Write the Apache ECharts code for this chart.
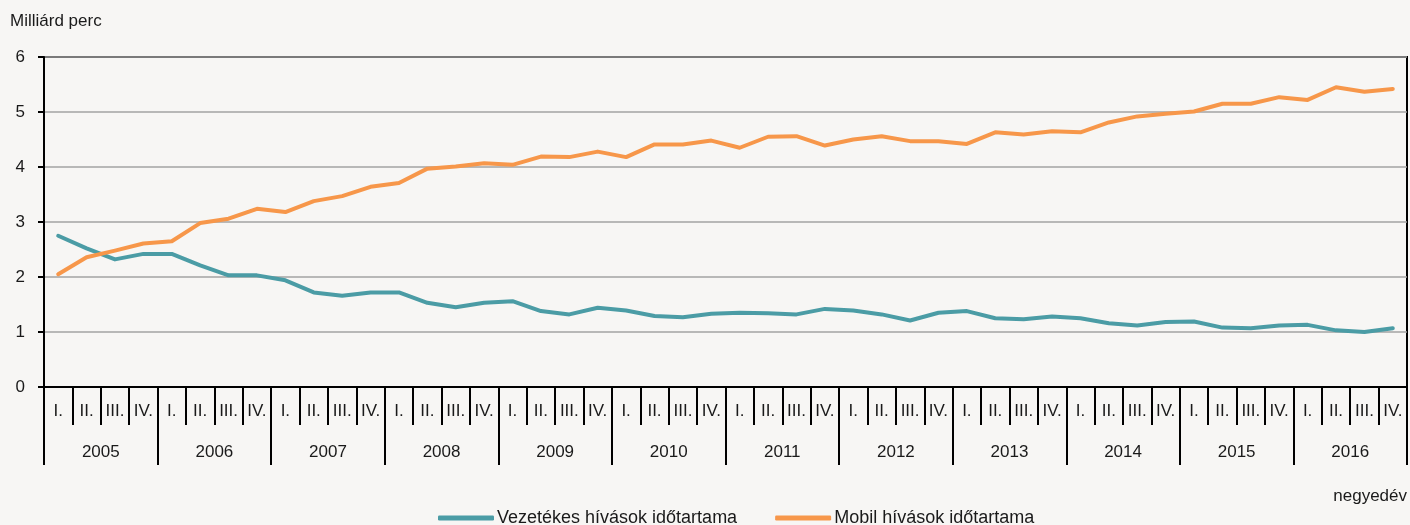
<!DOCTYPE html>
<html>
<head>
<meta charset="utf-8">
<script src="https://cdn.jsdelivr.net/npm/echarts@6/dist/echarts.min.js"></script>
<style>
  html, body { margin: 0; padding: 0; background: #f7f6f4; }
  #chart { width: 1410px; height: 525px; }
</style>
</head>
<body>
<div id="chart"></div>
<script>
const years = ['2005', '2006', '2007', '2008', '2009', '2010', '2011', '2012', '2013', '2014', '2015', '2016']
const quarterNames = ['I.', 'II.', 'III.', 'IV.']
const yTicks = [0, 1, 2, 3, 4, 5, 6]

// Vezetékes hívások időtartama (milliárd perc)
const vezetekes = [
  2.75, 2.52, 2.32, 2.42, 2.42, 2.21, 2.03, 2.03, 1.94, 1.72, 1.66, 1.72,
  1.72, 1.53, 1.45, 1.53, 1.56, 1.38, 1.32, 1.44, 1.39, 1.29, 1.27, 1.33,
  1.35, 1.34, 1.32, 1.42, 1.39, 1.32, 1.21, 1.35, 1.38, 1.25, 1.23, 1.28,
  1.25, 1.16, 1.12, 1.18, 1.19, 1.08, 1.07, 1.12, 1.13, 1.03, 1.00, 1.07
]
// Mobil hívások időtartama (milliárd perc)
const mobil = [
  2.05, 2.36, 2.48, 2.61, 2.65, 2.98, 3.06, 3.24, 3.18, 3.38, 3.47, 3.64,
  3.71, 3.97, 4.01, 4.07, 4.04, 4.19, 4.18, 4.28, 4.18, 4.41, 4.41, 4.48,
  4.35, 4.55, 4.56, 4.39, 4.50, 4.56, 4.47, 4.47, 4.42, 4.63, 4.59, 4.65,
  4.63, 4.81, 4.92, 4.97, 5.01, 5.15, 5.15, 5.27, 5.22, 5.45, 5.37, 5.42
]

const quarters = years.flatMap(() => quarterNames)
const font = "'Liberation Sans', Arial, sans-serif"
const ink = '#1a1a1a'

const chart = echarts.init(document.getElementById('chart'))
chart.setOption({
  backgroundColor: '#f7f6f4',
  textStyle: { fontFamily: font, color: ink },
  grid: {
    left: 44,
    right: 3,
    top: 57,
    bottom: 138,
    show: true,
    borderColor: '#000',
    borderWidth: 2,
    backgroundColor: 'transparent'
  },
  graphic: [
    { type: 'text', left: 10, top: 13, style: { text: 'Milliárd perc', font: '17px ' + font, fill: ink } },
    { type: 'text', right: 3, top: 488, style: { text: 'negyedév', font: '17px ' + font, fill: ink } }
  ],
  legend: {
    bottom: -7,
    left: 433,
    icon: 'roundRect',
    itemWidth: 56,
    itemHeight: 5,
    itemGap: 38,
    textStyle: { fontSize: 18, color: ink, fontFamily: font, padding: [0, 0, 0, -2] },
    data: ['Vezetékes hívások időtartama', 'Mobil hívások időtartama']
  },
  xAxis: [{
    type: 'category',
    position: 'bottom',
    boundaryGap: true,
    data: quarters,
    axisLine: { show: true, lineStyle: { color: '#000', width: 2 } },
    axisTick: { show: true, interval: 0, length: 38, lineStyle: { color: '#000', width: 2 } },
    axisLabel: { interval: 0, margin: 16, fontSize: 17, color: ink, fontFamily: font },
    splitLine: { show: false }
  }, {
    type: 'category',
    position: 'bottom',
    boundaryGap: true,
    data: years,
    axisLine: { show: false },
    axisTick: { show: true, interval: 0, length: 78, lineStyle: { color: '#000', width: 2 } },
    axisLabel: { interval: 0, margin: 57, fontSize: 17, color: ink, fontFamily: font },
    splitLine: { show: false }
  }],
  yAxis: {
    type: 'value',
    min: yTicks[0],
    max: yTicks[yTicks.length - 1],
    interval: 1,
    axisLine: { show: true, lineStyle: { color: '#000', width: 2 } },
    axisTick: { show: true, length: 6, lineStyle: { color: '#000', width: 2 } },
    axisLabel: { margin: 19, fontSize: 17, color: ink, fontFamily: font },
    splitLine: { show: true, lineStyle: { color: '#a3a3a3', width: 1.5 } }
  },
  series: [{
    name: 'Vezetékes hívások időtartama',
    type: 'line',
    xAxisIndex: 0,
    data: vezetekes,
    symbol: 'none',
    color: '#4b9ca5',
    lineStyle: { width: 4, color: '#4b9ca5', cap: 'round', join: 'round' }
  }, {
    name: 'Mobil hívások időtartama',
    type: 'line',
    xAxisIndex: 0,
    data: mobil,
    symbol: 'none',
    color: '#f7974a',
    lineStyle: { width: 4, color: '#f7974a', cap: 'round', join: 'round' }
  }]
})
</script>
</body>
</html>
